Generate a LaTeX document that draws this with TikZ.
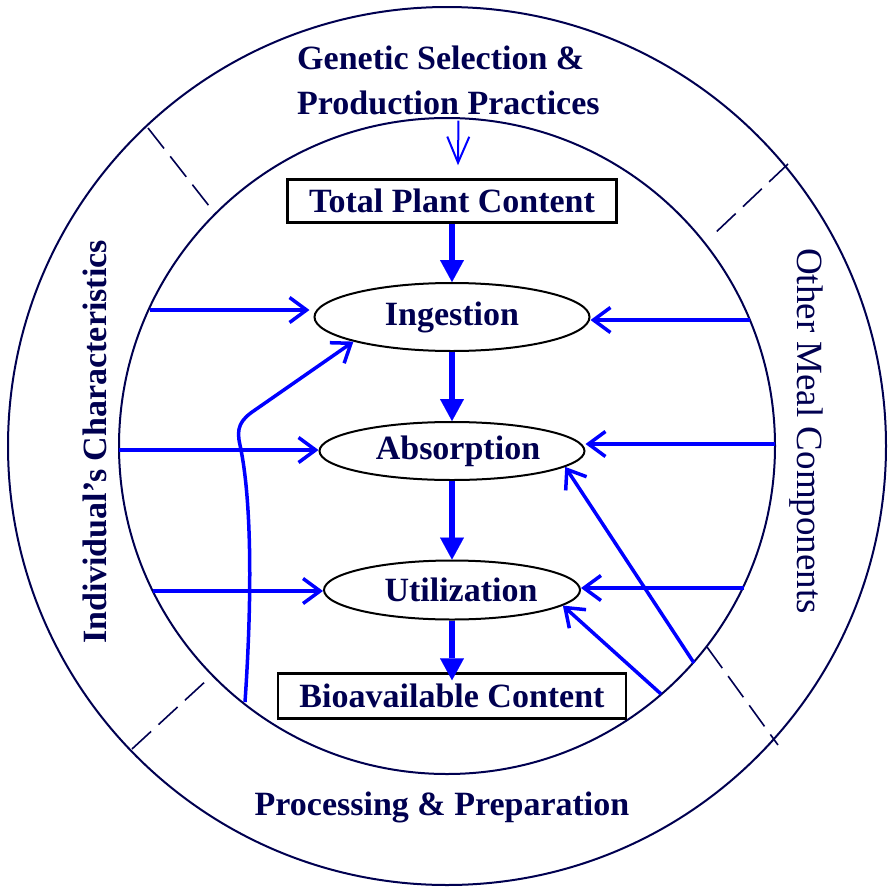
\documentclass[tikz,border=0pt]{standalone}
\usepackage{fontspec}
\setmainfont{Liberation Serif}
\usetikzlibrary{arrows.meta,shapes.geometric}
\definecolor{navy}{RGB}{0,0,80}
\definecolor{arblue}{RGB}{0,0,255}
\begin{document}
\begin{tikzpicture}[x=1pt,y=-1pt,
    ring/.style={navy,line width=2pt},
    sep/.style={navy,line width=1.6pt,dash pattern=on 26pt off 10pt},
    lbl/.style={navy,inner sep=0pt,font=\fontsize{34}{45}\selectfont\bfseries},
    stage/.style={ellipse,draw=black,line width=2pt,inner sep=0pt,text=navy,font=\fontsize{34}{40}\selectfont\bfseries},
    cbox/.style={rectangle,draw=black,line width=2.5pt,inner sep=0pt,text=navy,font=\fontsize{34}{40}\selectfont\bfseries},
    main/.style={arblue,line width=6pt,-{Triangle[length=22pt,width=24pt,line width=0.1pt]}},
    side/.style={arblue,line width=3.5pt,-{Straight Barb[length=17pt,width=25pt]}},
    feed/.style={arblue,line width=2pt,-{Straight Barb[length=26pt,width=22pt]}}]
    \useasboundingbox (0,0) rectangle (888,889);
    \coordinate (c) at (447,446);
    \draw[ring] (c) circle[radius=439];
    \draw[ring] (c) circle[radius=328];
    % separators between the outer sectors
    \draw[sep] (148,128) -- (213,211);
    \draw[sep] (788,164) -- (713,235);
    \draw[sep] (132,749) -- (208,679);
    \draw[sep] (707,647) -- (778,745);
    % outer labels
    \node[lbl,align=left,anchor=west] (gsp) at (297,80) {Genetic Selection \&\\Production Practices};
    \node[lbl] (pp) at (442,807) {Processing \& Preparation};
    \node[lbl,rotate=90] (ic) at (95,442) {Individual’s Characteristics};
    \node[lbl,rotate=-90,font=\fontsize{37}{40}\selectfont] (omc) at (806,431) {Other Meal Components};
    % stages
    \node[cbox,minimum width=329,minimum height=43] (tpc) at (452,201) {Total Plant Content};
    \node[stage,minimum width=275,minimum height=68] (ing) at (452,317) {Ingestion};
    \node[stage,minimum width=265,minimum height=58] (abs) at (452,451) {\hspace{12pt}Absorption};
    \node[stage,minimum width=256,minimum height=59] (util) at (452,590) {\hspace{18pt}Utilization};
    \node[cbox,minimum width=348,minimum height=45] (bio) at (452,696) {Bioavailable Content};
    \draw[feed] ([xshift=10pt,yshift=-6pt]gsp.south) -- ([xshift=6pt,yshift=13pt]tpc.north);
    \draw[main] (tpc) -- (ing);
    \draw[main] (ing) -- (abs);
    \draw[main] (abs) -- (util);
    \draw[main,shorten >=-8pt] (util) -- (bio);
    % inputs from the rings
    \coordinate (l1) at (150,310); \coordinate (l2) at (119,450); \coordinate (l3) at (153,591);
    \coordinate (r1) at (750,320); \coordinate (r2) at (775,444); \coordinate (r3) at (744,588);
    \coordinate (d1) at (694,663); \coordinate (d2) at (661,694); \coordinate (cb) at (245,702);
    \draw[side,shorten >=4pt] (l1) -- (l1 -| ing.west);
    \draw[side] (l2) -- (l2 -| abs.west);
    \draw[side] (l3) -- (l3 -| util.west);
    \draw[side] (r1) -- (r1 -| ing.east);
    \draw[side] (r2) -- (r2 -| abs.east);
    \draw[side] (r3) -- (r3 -| util.east);
    \draw[side] (d1) -- (abs.-8);
    \draw[side] (d2) -- (util.-8);
    \draw[side] (cb) .. controls (252,600) and (252,500) .. (240,445)
        .. controls (236,428) and (240,420) .. (255,410) -- (ing.194);
\end{tikzpicture}
\end{document}
